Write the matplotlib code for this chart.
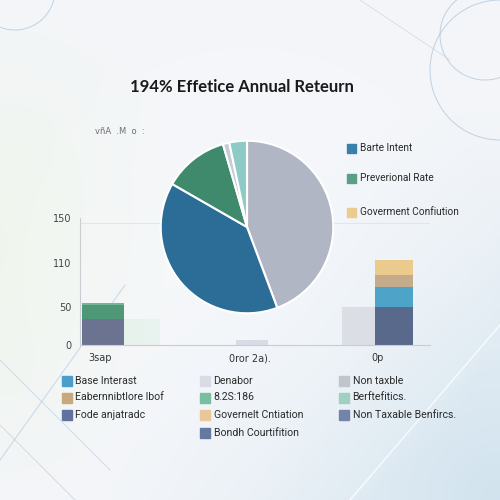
import numpy as np
import matplotlib
matplotlib.use("Agg")
import matplotlib.pyplot as plt
from matplotlib.patches import Rectangle

# ---- data ----
title = "194% Effetice Annual Reteurn"
pie_labels = ["Non taxable", "Base Interest", "Preverional Rate", "Denabor", "Benefitics"]
pie_values = [44.3, 39.0, 12.2, 1.2, 3.3]
pie_colors = ["#b1b6c4", "#2c6d98", "#3f8a6c", "#c6cbd4", "#8fcbc6"]

bar_categories = ["3sap", "0ror 2a).", "0p"]
ytick_values = [0, 50, 106, 165]
ytick_labels = ["0", "50", "110", "150"]

bar1_slate = 34
bar1_green = 20
shadow_bar = 34
bar2_gray = 7
bar3_gray = 49
bar4_segments = [49, 27, 15, 19]
bar4_colors = ["#58698c", "#4ea4c8", "#c4ab8c", "#ebca8e"]

right_legend = ["Barte Intent", "Preverional Rate", "Goverment Confiution"]
right_legend_colors = ["#3a80ad", "#5a9f85", "#ebcb8e"]

bottom_cols = [
    [("Base Interast", "#4b9dcb"), ("Eabernnibtlore lbof", "#c9a77f"), ("Fode anjatradc", "#6272a0")],
    [("Denabor", "#d9dce4"), ("8.2S:186", "#79bf9f"), ("Governelt Cntiation", "#e8c898"), ("Bondh Courtifition", "#6478a0")],
    [("Non taxble", "#c1c4cd"), ("Berftefitics.", "#a0d0c1"), ("Non Taxable Benfircs.", "#7383a9")],
]

fig = plt.figure(figsize=(5, 5), dpi=100)

# ---- background gradient ----
bg = fig.add_axes([0, 0, 1, 1])
yy, xx = np.mgrid[0:1:500j, 0:1:500j]
base = np.array([0.955, 0.963, 0.976])
img = np.ones((500, 500, 3)) * base
green = np.array([0.94, 0.963, 0.925])
blue = np.array([0.82, 0.89, 0.935])
wg = (np.clip(1 - np.hypot((xx - 0.0) / 0.4, (yy - 0.5) / 0.5), 0, 1) ** 0.9)[..., None]
wb = (np.clip(1 - np.hypot((xx - 1.0) / 0.8, (yy - 1.0) / 0.8), 0, 1) ** 1.2)[..., None]
wc = (np.clip(1 - np.hypot(xx - 0.5, yy - 0.55) / 0.5, 0, 1) ** 0.7)[..., None]
img = img * (1 - wg) + green * wg
img = img * (1 - wb) + blue * wb
img = img * (1 - 0.6 * wc) + np.array([0.972, 0.978, 0.988]) * 0.6 * wc
bg.imshow(img, extent=[0, 1, 0, 1], origin="upper", aspect="auto", interpolation="bilinear")
t = np.linspace(0, 2 * np.pi, 300)
for cx, cy, r in [(1.0, 0.86, 0.14), (0.97, 0.93, 0.09), (0.03, 1.02, 0.08)]:
    bg.plot(cx + r * np.cos(t), cy + r * np.sin(t), color="#9bbbd6", lw=0.7, alpha=0.6)
bg.plot([0.0, 0.25], [0.08, 0.43], color="#a9c3dc", lw=0.7, alpha=0.6)
bg.plot([0.0, 0.22], [0.28, 0.06], color="#a9c3dc", lw=0.7, alpha=0.5)
bg.plot([0.0, 0.15], [0.15, 0.0], color="#a9c3dc", lw=0.7, alpha=0.5)
bg.plot([0.7, 1.0], [0.0, 0.35], color="#ffffff", lw=1.0, alpha=0.8)
bg.plot([0.72, 0.9], [1.0, 0.88], color="#b5c9dc", lw=0.6, alpha=0.5)
bg.set_xlim(0, 1)
bg.set_ylim(0, 1)
bg.axis("off")

fig.text(0.483, 0.826, title, ha="center", va="center", fontsize=12,
         fontweight="bold", color="#1a1a1a", family="Lato")
fig.text(0.19, 0.736, "vñA  .M  o  :", ha="left", va="center", fontsize=6,
         color="#6a6f78")

# ---- bar axes ----
ax = fig.add_axes([0.16, 0.31, 0.70, 0.254])
ax.set_xlim(0, 350)
ax.set_ylim(0, 159)
x1, x_sh, x2, x3, x4 = 23, 62, 172, 279, 314
ax.bar(x1, bar1_slate, width=42, color="#6b7391")
ax.bar(x1, bar1_green, bottom=bar1_slate, width=42, color="#4e9878")
ax.bar(x1, 2, bottom=bar1_slate + bar1_green - 2, width=42, color="#74b596")
ax.bar(x_sh, shadow_bar, width=36, color="#e4f1ea", alpha=0.7)
ax.bar(x2, bar2_gray, width=32, color="#d9dce4")
ax.bar(x3, bar3_gray, width=34, color="#dcdee6")
bottom = 0
for h, c in zip(bar4_segments, bar4_colors):
    ax.bar(x4, h, bottom=bottom, width=38, color=c)
    bottom += h
ax.set_yticks(ytick_values)
ax.set_yticklabels(ytick_labels, fontsize=7, color="#444444")
ax.set_xticks([20, 170, 298])
ax.set_xticklabels(bar_categories, fontsize=7, color="#333333")
ax.tick_params(length=0, pad=6)
ax.patch.set_alpha(0)
for s in ["top", "right"]:
    ax.spines[s].set_visible(False)
ax.spines["left"].set_color("#c9ccd3")
ax.spines["bottom"].set_color("#c9ccd3")
ax.axhline(159, color="#e2e5ea", lw=0.8)

# ---- pie ----
pax = fig.add_axes([0.318, 0.37, 0.352, 0.352])
pax.pie(pie_values, colors=pie_colors, startangle=90, counterclock=False,
        wedgeprops=dict(edgecolor="white", linewidth=1.5))
pax.set_xlim(-1.02, 1.02)
pax.set_ylim(-1.02, 1.02)
pax.set_aspect("equal")

# ---- right legend ----
for (lab, col), y in zip(zip(right_legend, right_legend_colors), [0.704, 0.644, 0.576]):
    fig.patches.append(Rectangle((0.694, y - 0.009), 0.018, 0.018, color=col,
                                 transform=fig.transFigure, figure=fig))
    fig.text(0.72, y, lab, ha="left", va="center", fontsize=7.3, color="#2a2a2a",
             family="Roboto")

# ---- bottom legend ----
col_x = [0.123, 0.4, 0.678]
row_y = [0.239, 0.205, 0.170, 0.135]
for cx, items in zip(col_x, bottom_cols):
    for (lab, col), y in zip(items, row_y):
        fig.patches.append(Rectangle((cx, y - 0.01), 0.02, 0.02, color=col,
                                     transform=fig.transFigure, figure=fig))
        fig.text(cx + 0.027, y, lab, ha="left", va="center", fontsize=7.6,
                 color="#2a2a2a", family="Roboto")

fig.savefig("out.png", dpi=100)
